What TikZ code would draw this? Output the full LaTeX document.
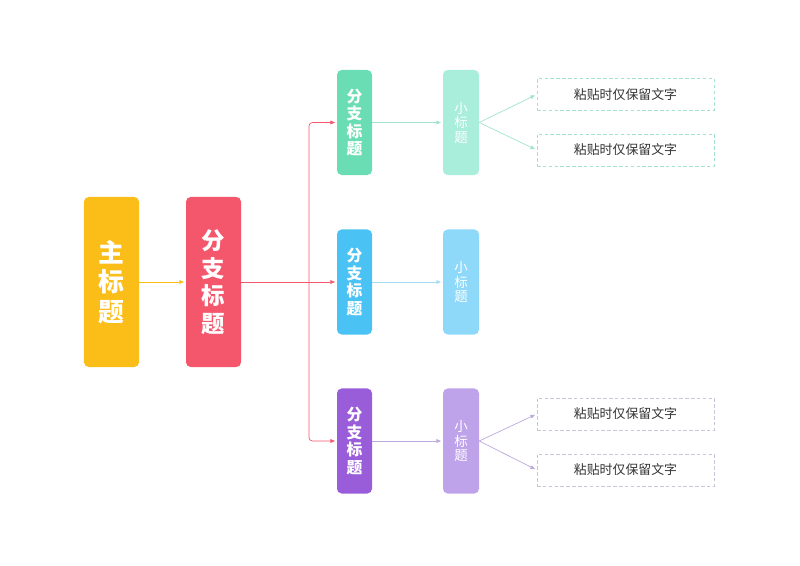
\documentclass[tikz,border=0pt]{standalone}
\usepackage{fontspec}
\setmainfont{Noto Sans CJK SC}
\usetikzlibrary{positioning, arrows.meta}

\definecolor{mainyellow}{HTML}{FBBD18}
\definecolor{branchred}{HTML}{F4566B}
\definecolor{topgreen}{HTML}{6ADDB5}
\definecolor{midblue}{HTML}{4BC2F4}
\definecolor{lowpurple}{HTML}{9A5DD9}
\definecolor{topgreenlt}{HTML}{A8EEDA}
\definecolor{midbluelt}{HTML}{8ED9F9}
\definecolor{lowpurplelt}{HTML}{BEA3EA}
\definecolor{topgreenln}{HTML}{A2E2CF}
\definecolor{midblueln}{HTML}{A6DCF2}
\definecolor{lowpurpleln}{HTML}{BBA8DC}
\definecolor{notegray}{HTML}{333333}

\begin{document}
\begin{tikzpicture}[
		x=0.03cm, y=-0.03cm,
		>={Triangle[length=4pt, width=3.2pt]},
		titlebox/.style={rounded corners=4pt, inner sep=0pt, align=center, text=white},
		mainbox/.style={titlebox, fill=mainyellow, minimum width=1.65cm, minimum height=5.1cm,
			font=\bfseries\fontsize{22}{25}\selectfont},
		redbox/.style={titlebox, fill=branchred, minimum width=1.65cm, minimum height=5.1cm,
			font=\bfseries\fontsize{20}{23.5}\selectfont},
		branchbox/.style={titlebox, minimum width=1.05cm, minimum height=3.15cm,
			font=\bfseries\fontsize{13.5}{15}\selectfont},
		subbox/.style={titlebox, minimum width=1.08cm, minimum height=3.15cm,
			font=\fontsize{11.5}{12.4}\selectfont},
		notebox/.style={draw, dashed, dash pattern=on 3pt off 2pt, line width=0.5pt,
			minimum width=5.31cm, minimum height=0.96cm, inner sep=0pt,
			text=notegray, font=\fontsize{11}{13}\selectfont},
		link/.style={->, line width=0.6pt, shorten >=1.5pt}
		]
		\useasboundingbox (0,0) rectangle (800,566);
		
		% --- MAIN TITLE AND FIRST BRANCH ---
		\node[mainbox] (main) at (111.5, 282) {主\\标\\题};
		\node[redbox] (branch) at (213.5, 282) {分\\支\\标\\题};
		\draw[link, draw=mainyellow] (main) -- (branch);
		
		% --- BRANCHES AND SUB TITLES ---
		\foreach \i/\yc/\dark/\light/\line in {1/122.5/topgreen/topgreenlt/topgreenln,
			2/282/midblue/midbluelt/midblueln, 3/441/lowpurple/lowpurplelt/lowpurpleln} {
			\node[branchbox, fill=\dark] (b\i) at (354.5, \yc) {分\\支\\标\\题};
			\node[subbox, fill=\light] (s\i) at (461, \yc) {小\\标\\题};
			\draw[link, draw=\line] (b\i) -- (s\i);
		}
		
		% --- RED BUS ---
		\coordinate (hub) at (309, 282);
		\draw[line width=0.6pt, draw=branchred] (branch) -- (hub);
		\draw[link, draw=branchred, rounded corners=3pt] (hub) |- (b1);
		\draw[link, draw=branchred] (hub) -- (b2);
		\draw[link, draw=branchred, rounded corners=3pt] (hub) |- (b3);
		
		% --- NOTE BOXES ---
		\node[notebox, draw=topgreenln] (n1a) at (625.5, 94.5) {粘贴时仅保留文字};
		\node[notebox, draw=topgreenln] (n1b) at (625.5, 150) {粘贴时仅保留文字};
		\node[notebox, draw=lowpurpleln!70!gray!60] (n3a) at (625.5, 414) {粘贴时仅保留文字};
		\node[notebox, draw=lowpurpleln!70!gray!60] (n3b) at (625.5, 470) {粘贴时仅保留文字};
		
		\foreach \n in {a,b} {
			\draw[link, draw=topgreenln] (s1.east) -- (n1\n.west);
			\draw[link, draw=lowpurpleln] (s3.east) -- (n3\n.west);
		}
		
	\end{tikzpicture}
\end{document}
